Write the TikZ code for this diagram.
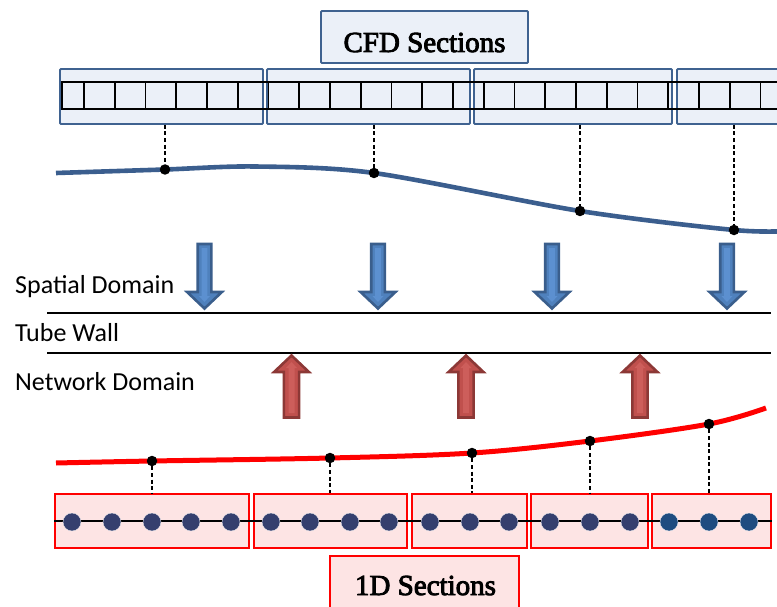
\documentclass[tikz,border=0pt]{standalone}
\usepackage{fontspec}
\setmainfont{Liberation Serif}
\newfontfamily\labelfont{Carlito}
\definecolor{cfdedge}{HTML}{3F6290}
\definecolor{cfdfill}{HTML}{EBF0F8}
\definecolor{curveblue}{HTML}{3B5E8E}
\definecolor{secfill}{HTML}{FDE4E4}
\definecolor{nodedot}{HTML}{353F6E}
\definecolor{nodedotb}{HTML}{1F4C80}
\definecolor{bluedark}{HTML}{3A5E8C}
\definecolor{bluefill}{HTML}{4F81BD}
\definecolor{bluelite}{HTML}{5C90D0}
\definecolor{reddark}{HTML}{8C3836}
\definecolor{redfill}{HTML}{C0504D}
\definecolor{redlite}{HTML}{CD5E5B}
% heavy outlined title lettering (fill + stroke render mode)
\newcommand\heavytext[1]{\special{pdf:literal direct 2 Tr 0.9 w}#1\special{pdf:literal direct 0 Tr}}
\tikzset{
  cfdbox/.style={draw=cfdedge, fill=cfdfill, line width=1.8pt, inner sep=0pt, rounded corners=1pt},
  secbox/.style={draw=red, fill=secfill, line width=2pt, inner sep=0pt},
  titletext/.style={font=\fontsize{29}{32}\selectfont, inner sep=0pt, text=black},
  sidelabel/.style={font=\labelfont\fontsize{26}{30}\selectfont, inner sep=0pt, anchor=base west},
  curvedot/.style={circle, fill=black, inner sep=0pt, minimum size=10.5pt},
  meshdot/.style={circle, fill=nodedot, draw=white, line width=0.3pt, inner sep=0pt, minimum size=18pt},
  dashline/.style={black, line width=1.8pt, dash pattern=on 4pt off 2.6pt},
  wall/.style={black, line width=2.2pt},
  pics/downarrow/.style={code={
    \draw[line width=2.6pt, draw=bluedark, fill=bluefill, line join=miter]
      (-6.8,0) -- (6.8,0) -- (6.8,48) -- (17.4,48) -- (0,64.5) -- (-17.4,48) -- (-6.8,48) -- cycle;
    \fill[bluelite] (-2.8,4) -- (2.8,4) -- (2.8,52) -- (5.5,52) -- (0,58) -- (-5.5,52) -- (-2.8,52) -- cycle;
  }},
  pics/uparrow/.style={code={
    \draw[line width=2.6pt, draw=reddark, fill=redfill, line join=miter]
      (0,1.5) -- (17.4,18) -- (7.6,18) -- (7.6,63.5) -- (-7.6,63.5) -- (-7.6,18) -- (-17.4,18) -- cycle;
    \fill[redlite] (0,8) -- (5.5,14) -- (3,14) -- (3,59) -- (-3,59) -- (-3,14) -- (-5.5,14) -- cycle;
  }},
}
\begin{document}
\begin{tikzpicture}[x=1pt, y=-1pt]
  \useasboundingbox (0,0) rectangle (777,607);
  \clip (0,0) rectangle (777,607);

  % CFD sections along the spatial domain
  \node[cfdbox, minimum width=207pt, minimum height=52pt] (cfdtitle) at (424.5,37) {};
  \node[titletext, anchor=base] (cfdlabel) at (424.5,52) {\heavytext{CFD Sections}};

  \node[cfdbox, minimum width=203pt, minimum height=55pt] (cfd1) at (161.5,96.5) {};
  \node[cfdbox, minimum width=203pt, minimum height=55pt] (cfd2) at (368.5,96.5) {};
  \node[cfdbox, minimum width=198pt, minimum height=55pt] (cfd3) at (573,96.5) {};
  \node[cfdbox, minimum width=123pt, minimum height=55pt] (cfd4) at (738.5,96.5) {};

  % CFD mesh cells
  \draw[black, line width=2pt] (62,82) rectangle (800,109);
  \foreach \k in {0,...,22}
    \draw[black, line width=1.7pt] (84+30.75*\k,82) -- ++(0,27);

  % Spatial-domain wall profile
  \draw[curveblue, line width=4.6pt] plot[smooth, tension=0.5]
    coordinates {(56,173) (165,169.5) (255,166.5) (374,173) (580,211) (734,230) (790,231)};
  \node[curvedot] (t1) at (165,169.5) {};
  \node[curvedot] (t2) at (374,173) {};
  \node[curvedot] (t3) at (580,211) {};
  \node[curvedot] (t4) at (734,230) {};
  \draw[dashline] (t1 |- cfd1.south) -- (t1);
  \draw[dashline] (t2 |- cfd2.south) -- (t2);
  \draw[dashline] (t3 |- cfd3.south) -- (t3);
  \draw[dashline] (t4 |- cfd4.south) -- (t4);

  % Domain labels and tube wall
  \node[sidelabel] (spatial) at (15,293) {Spatial Domain};
  \node[sidelabel] (tube) at (15,341) {Tube Wall};
  \node[sidelabel] (network) at (15,390) {Network Domain};
  \coordinate (wa1) at (47,313);
  \coordinate (wa2) at (771,313);
  \coordinate (wb1) at (47,353);
  \coordinate (wb2) at (771,353);
  \draw[wall] (wa1) -- (wa2);
  \draw[wall] (wb1) -- (wb2);

  % Transfer arrows
  \pic at (204.5,244) {downarrow};
  \pic at (378,244) {downarrow};
  \pic at (552,244) {downarrow};
  \pic at (727,244) {downarrow};
  \pic at (291.5,354) {uparrow};
  \pic at (466,354) {uparrow};
  \pic at (640,354) {uparrow};

  % Network-domain profile
  \draw[red, line width=5pt] plot[smooth, tension=0.55]
    coordinates {(56,463) (152,461) (330,458) (472,453) (590,441) (709,424) (766,408)};

  % 1D sections
  \node[secbox, minimum width=194pt, minimum height=54pt] (sec1) at (152,521) {};
  \node[secbox, minimum width=153pt, minimum height=54pt] (sec2) at (330.5,521) {};
  \node[secbox, minimum width=115pt, minimum height=54pt] (sec3) at (469.5,521) {};
  \node[secbox, minimum width=117pt, minimum height=54pt] (sec4) at (589.5,521) {};
  \node[secbox, minimum width=119pt, minimum height=54pt] (sec5) at (711.5,521) {};

  \node[curvedot] (r1) at (152,461) {};
  \node[curvedot] (r2) at (330,458) {};
  \node[curvedot] (r3) at (472,453) {};
  \node[curvedot] (r4) at (590,441) {};
  \node[curvedot] (r5) at (709,424) {};
  \draw[dashline] (r1) -- (r1 |- sec1.north);
  \draw[dashline] (r2) -- (r2 |- sec2.north);
  \draw[dashline] (r3) -- (r3 |- sec3.north);
  \draw[dashline] (r4) -- (r4 |- sec4.north);
  \draw[dashline] (r5) -- (r5 |- sec5.north);

  % 1D network nodes
  \draw[black, line width=1.1pt] (sec1.west) -- (sec5.east);
  \foreach \x [count=\i] in {72,112,152,191,231,271,310,350,389,430,470,509,550,590,630}
    \node[meshdot] (n\i) at (\x,522) {};
  \foreach \x [count=\i from 16] in {669,709,749}
    \node[meshdot, fill=nodedotb] (n\i) at (\x,522) {};

  \node[secbox, minimum width=189pt, minimum height=56pt] (sectitle) at (424.5,584) {};
  \node[titletext, anchor=base] (seclabel) at (425.5,595) {\heavytext{1D Sections}};
\end{tikzpicture}
\end{document}
